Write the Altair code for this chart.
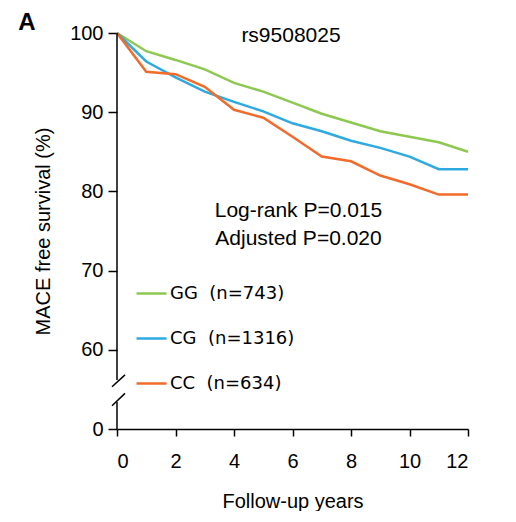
import altair as alt
import pandas as pd

years = [0, 1, 2, 3, 4, 5, 6, 7, 8, 9, 10, 11, 12]
gg_surv = [100, 97.7, 96.6, 95.4, 93.7, 92.6, 91.2, 89.8, 88.7, 87.6, 86.9, 86.2, 85.0]
cg_surv = [100, 96.4, 94.4, 92.6, 91.3, 90.1, 88.6, 87.6, 86.4, 85.5, 84.4, 82.8, 82.8]
cc_surv = [100, 95.1, 94.8, 93.2, 90.3, 89.3, 86.9, 84.4, 83.8, 82.0, 80.9, 79.6, 79.6]

genotypes = ["GG", "CG", "CC"]
counts = [743, 1316, 634]
colors = ["#8DC850", "#2EAAE1", "#F26B2A"]
y_ticks = [50, 60, 70, 80, 90, 100]   # 50 is shown as "0" (broken axis)
x_ticks = [0, 2, 4, 6, 8, 10, 12]

labels = [f"{g}\u00a0\u00a0(n={n})" for g, n in zip(genotypes, counts)]
rows = []
for lab, series in zip(labels, [gg_surv, cg_surv, cc_surv]):
    for t, v in zip(years, series):
        rows.append({"year": t, "survival": v, "group": lab})
df = pd.DataFrame(rows)

FONT = "Liberation Sans"

lines = alt.Chart(df).mark_line(strokeWidth=2.5).encode(
    x=alt.X("year:Q", scale=alt.Scale(domain=[0, 12], nice=False, zero=False),
            axis=alt.Axis(values=x_ticks, title="Follow-up years", grid=False,
                          domain=True, domainColor="black", domainWidth=1.5,
                          tickColor="black", tickWidth=1.5, tickSize=7,
                          labelFont=FONT, labelFontSize=20, labelColor="black",
                          labelPadding=15, titleFont=FONT, titleFontSize=20,
                          titleFontWeight="normal", titleColor="black", titlePadding=20)),
    y=alt.Y("survival:Q", scale=alt.Scale(domain=[50, 100], nice=False, zero=False),
            axis=alt.Axis(values=y_ticks, title="MACE free survival (%)", grid=False,
                          domain=False, tickColor="black", tickWidth=1.5, tickSize=9,
                          labelExpr="datum.value == 50 ? '0' : datum.label",
                          labelFont=FONT, labelFontSize=20, labelColor="black",
                          labelPadding=5, titleFont=FONT, titleFontSize=20,
                          titleFontWeight="normal", titleColor="black", titlePadding=16)),
    color=alt.Color("group:N", sort=labels,
                    scale=alt.Scale(domain=labels, range=colors),
                    legend=alt.Legend(orient="none", legendX=18, legendY=244, title=None,
                                      symbolType="stroke", symbolSize=900,
                                      symbolStrokeWidth=2.5, labelFont="DejaVu Sans",
                                      labelFontSize=18, labelColor="black",
                                      labelOffset=2, rowPadding=19, padding=0)),
)

# broken y-axis line
break_top = 56.2
break_bottom = 53.4
axis_upper = alt.Chart(pd.DataFrame({"a": [0]})).mark_rule(color="black", strokeWidth=1.5).encode(
    x=alt.value(0), y=alt.datum(100), y2=alt.datum(break_top))
axis_lower = alt.Chart(pd.DataFrame({"a": [0]})).mark_rule(color="black", strokeWidth=1.5).encode(
    x=alt.value(0), y=alt.datum(break_bottom), y2=alt.datum(50))
slash1 = alt.Chart(pd.DataFrame({"a": [0]})).mark_rule(color="black", strokeWidth=1.5).encode(
    x=alt.value(-5), x2=alt.value(8), y=alt.datum(55.33), y2=alt.datum(56.84))
slash2 = alt.Chart(pd.DataFrame({"a": [0]})).mark_rule(color="black", strokeWidth=1.5).encode(
    x=alt.value(-5), x2=alt.value(8), y=alt.datum(52.94), y2=alt.datum(54.5))

def label(text, x, y, size=20, weight="normal"):
    return alt.Chart(pd.DataFrame({"t": [text]})).mark_text(
        font=FONT, fontSize=size, fontWeight=weight, color="black",
        align="center", baseline="middle").encode(
        x=alt.value(x), y=alt.value(y), text="t:N")

title_txt = label("rs9508025", 174, 3, 21)
panel_txt = label("A", -90, -10, 24, "bold")
logrank_txt = label("Log-rank P=0.015", 181.5, 178, 21)
adj_txt = label("Adjusted P=0.020", 181.5, 206, 21)

chart = alt.layer(lines, axis_upper, axis_lower, slash1, slash2,
                  title_txt, panel_txt, logrank_txt, adj_txt).properties(
    width=351, height=396,
    autosize=alt.AutoSizeParams(type="none"),
    padding={"left": 109, "top": 25, "right": 30, "bottom": 82},
    background="white",
).configure_view(stroke=None)

chart.save("out.html", embed_options={"renderer": "svg", "actions": False})
